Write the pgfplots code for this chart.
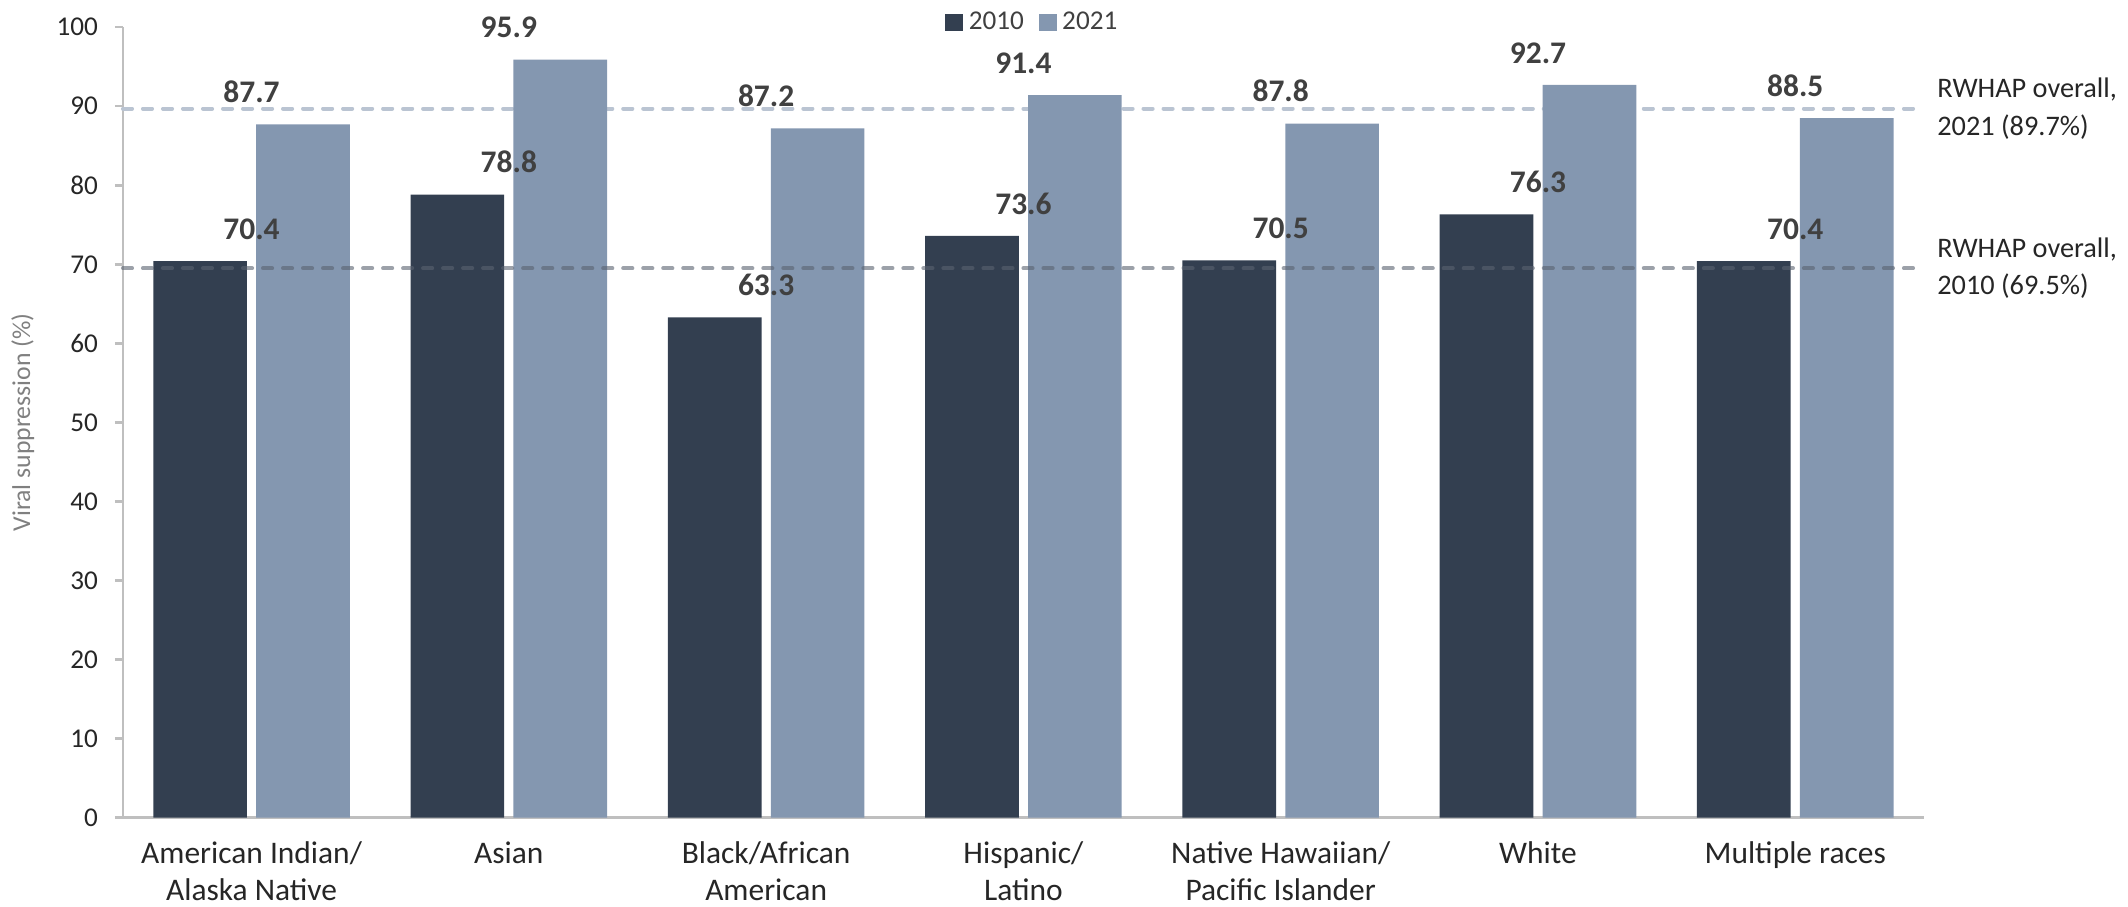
\documentclass[border=0pt]{standalone}
\usepackage{fontspec}
\setmainfont{Carlito}
\usepackage{pgfplots}
\usepackage{pgfplotstable}
\pgfplotsset{compat=1.18}

\definecolor{c2010}{HTML}{333F50}
\definecolor{c2021}{HTML}{8497B0}
\definecolor{axisgray}{HTML}{BFBFBF}
\definecolor{lblgray}{HTML}{404040}
\definecolor{txtdark}{HTML}{262626}
\definecolor{line2021}{HTML}{BAC4D2}
\definecolor{line2010}{HTML}{5A6270}

% viral suppression by race/ethnicity
\pgfplotstableread{
x  y2010 y2021
0  70.4  87.7
1  78.8  95.9
2  63.3  87.2
3  73.6  91.4
4  70.5  87.8
5  76.3  92.7
6  70.4  88.5
}\racedata

\pgfplotsset{
  sqlegend/.style={legend image code/.code={\fill[##1] (-1pt,-3.1pt) rectangle (5.2pt,3.1pt);}},
  refline/.style={sharp plot, no marks, line width=1.4pt, line cap=round,
    dash pattern=on 3.2pt off 3.8pt, forget plot},
  barlabels/.style={nodes near coords, nodes near coords align=vertical,
    every node near coord/.append style={text=lblgray, yshift=4pt,
      font=\fontsize{11}{13}\selectfont\bfseries},
    /pgf/number format/.cd, fixed, fixed zerofill, precision=1},
}

\begin{document}
\begin{tikzpicture}
\begin{axis}[
    width=630pt, height=276.5pt, scale only axis,
    xmin=-0.5, xmax=6.5, ymin=0, ymax=100,
    clip=false,
    axis x line*=bottom, axis y line*=left,
    axis line style={axisgray, line width=0.9pt},
    ytick={0,10,...,100},
    xtick={0,...,6},
    xticklabels={{American Indian/\\Alaska Native}, Asian, {Black/African\\American},
      {Hispanic/\\Latino}, {Native Hawaiian/\\Pacific Islander}, White, Multiple races},
    xticklabel style={align=center, text=txtdark, inner sep=0pt, yshift=-5.5pt,
      font=\fontsize{11}{12.9}\selectfont},
    major x tick style={draw=none},
    tick align=outside, major tick length=2.8pt,
    ytick style={axisgray, line width=0.9pt},
    yticklabel style={text=txtdark, xshift=-2.4pt, font=\fontsize{9.5}{11}\selectfont},
    /pgf/number format/assume math mode=true,
    ylabel={Viral suppression (\%)},
    every axis y label/.style={at={(axis description cs:-0.0556,0.5)}, rotate=90,
      anchor=center, text=gray, font=\fontsize{9}{11}\selectfont},
    legend style={at={(0.506,1.006)}, anchor=center, draw=none, fill=none,
      legend columns=2, text=lblgray, font=\fontsize{9.5}{11}\selectfont,
      /tikz/every even column/.append style={column sep=3.2pt}},
    sqlegend,
]
\addplot[refline, line2021] coordinates {(-0.5,89.7) (6.5,89.7)};

\addplot[ybar, bar width=0.364, bar shift=-0.2, fill=c2010, draw=none, barlabels]
  table[x=x, y=y2010] {\racedata};
\addlegendentry{2010}

\addplot[ybar, bar width=0.364, bar shift=0.2, fill=c2021, draw=none, barlabels]
  table[x=x, y=y2021] {\racedata};
\addlegendentry{2021}

\addplot[refline, line2010, opacity=0.6] coordinates {(-0.5,69.5) (6.5,69.5)};

\node[anchor=west, align=left, inner sep=0pt, xshift=4.5pt, text=txtdark,
  font=\fontsize{9.9}{13}\selectfont] at (axis cs:6.5,89.7) {RWHAP overall,\\2021 (89.7\%)};
\node[anchor=west, align=left, inner sep=0pt, xshift=4.5pt, text=txtdark,
  font=\fontsize{9.9}{13}\selectfont] at (axis cs:6.5,69.5) {RWHAP overall,\\2010 (69.5\%)};

\coordinate (ll) at (rel axis cs:0,0);
\coordinate (ur) at (rel axis cs:1,1);
\end{axis}
\pgfresetboundingbox
\path ([shift={(-43pt,-31pt)}]ll) rectangle ([shift={(71.4pt,9.5pt)}]ur);
\end{tikzpicture}
\end{document}
